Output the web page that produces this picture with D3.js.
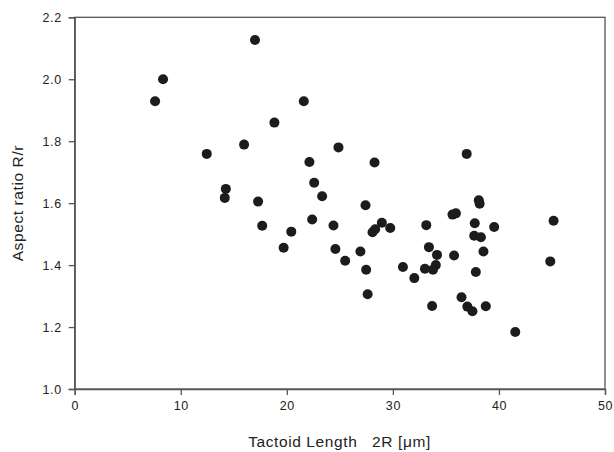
<!DOCTYPE html>
<html>
<head>
<meta charset="utf-8">
<script src="https://cdn.jsdelivr.net/npm/d3@7"></script>
<style>
  html, body { margin: 0; padding: 0; background: #fff; }
  svg { display: block; }
  text { font-family: "Liberation Sans", Arial, sans-serif; fill: #222; }
</style>
</head>
<body>
<svg id="chart" width="614" height="452"></svg>
<script>
// Data
const tactoidLength = [
  7.58, 8.33, 12.45, 14.25, 14.15, 15.97, 17.0, 17.29, 17.68, 18.83,
  19.70, 20.42, 21.60, 22.13, 22.39, 22.58, 23.33, 24.40, 24.58, 24.87,
  25.50, 26.94, 27.42, 27.48, 27.62, 28.08, 28.33, 28.27, 28.96, 29.75,
  30.95, 32.02, 33.02, 33.15, 33.40, 33.70, 33.78, 34.05, 34.16, 35.62,
  35.94, 35.77, 36.47, 36.96, 37.02, 37.50, 37.67, 37.72, 37.82, 38.10,
  38.18, 38.30, 38.54, 38.76, 39.55, 41.54, 44.84, 45.15
];
const aspectRatio = [
  1.929, 2.000, 1.759, 1.646, 1.617, 1.789, 2.127, 1.605, 1.527, 1.860,
  1.456, 1.508, 1.929, 1.733, 1.547, 1.666, 1.622, 1.528, 1.452, 1.780,
  1.414, 1.444, 1.593, 1.385, 1.306, 1.506, 1.516, 1.731, 1.537, 1.520,
  1.394, 1.358, 1.388, 1.529, 1.458, 1.268, 1.385, 1.400, 1.433, 1.563,
  1.567, 1.431, 1.296, 1.759, 1.266, 1.251, 1.495, 1.535, 1.378, 1.609,
  1.598, 1.490, 1.444, 1.267, 1.523, 1.184, 1.412, 1.543
];
const xTicks = [0, 10, 20, 30, 40, 50];
const yTicks = [1.0, 1.2, 1.4, 1.6, 1.8, 2.0, 2.2];
const xTitle = "Tactoid Length   2R [\u03bcm]";
const yTitle = "Aspect ratio R/r";

const points = tactoidLength.map((x, i) => ({ x, y: aspectRatio[i] }));

const svg = d3.select("#chart");
const mLeft = 74.7, mRight = 605, mTop = 17.3, mBottom = 389;

const x = d3.scaleLinear().domain([0, 50]).range([mLeft, mRight]);
const y = d3.scaleLinear().domain([1.0, 2.2]).range([mBottom, mTop]);

const axisColor = "#555";
const fontFam = "Liberation Sans, Arial, sans-serif";

// frame
svg.append("rect")
  .attr("x", mLeft).attr("y", mTop)
  .attr("width", mRight - mLeft).attr("height", mBottom - mTop)
  .attr("fill", "none").attr("stroke", axisColor).attr("stroke-width", 1.3);

// x axis
const gx = svg.append("g").attr("transform", `translate(0,${mBottom})`)
  .call(d3.axisBottom(x).tickValues(xTicks).tickSize(6).tickPadding(6).tickFormat(d3.format("d")));
gx.select(".domain").attr("stroke", axisColor).attr("stroke-width", 1.3);
gx.selectAll(".tick line").attr("stroke", axisColor).attr("stroke-width", 1.3);
gx.selectAll(".tick text").attr("font-size", 12.5).attr("letter-spacing", 0.6)
  .attr("font-family", fontFam).attr("fill", "#222");

// y axis
const gy = svg.append("g").attr("transform", `translate(${mLeft},0)`)
  .call(d3.axisLeft(y).tickValues(yTicks).tickSize(6).tickPadding(7).tickFormat(d3.format(".1f")));
gy.select(".domain").attr("stroke", axisColor).attr("stroke-width", 1.3);
gy.selectAll(".tick line").attr("stroke", axisColor).attr("stroke-width", 1.3);
gy.selectAll(".tick text").attr("font-size", 12.5).attr("letter-spacing", 0.6)
  .attr("font-family", fontFam).attr("fill", "#222");

// points
svg.append("g").selectAll("circle").data(points).join("circle")
  .attr("cx", d => x(d.x)).attr("cy", d => y(d.y))
  .attr("r", 5).attr("fill", "#1c1c1c");

// titles
svg.append("text")
  .attr("x", 339.5).attr("y", 447)
  .attr("text-anchor", "middle").attr("font-size", 15.5)
  .attr("letter-spacing", 0.6)
  .style("white-space", "pre")
  .text(xTitle);

svg.append("text")
  .attr("transform", `translate(23,${(mTop + mBottom) / 2}) rotate(-90)`)
  .attr("text-anchor", "middle").attr("font-size", 15.5)
  .attr("letter-spacing", 0.6)
  .text(yTitle);
</script>
</body>
</html>
